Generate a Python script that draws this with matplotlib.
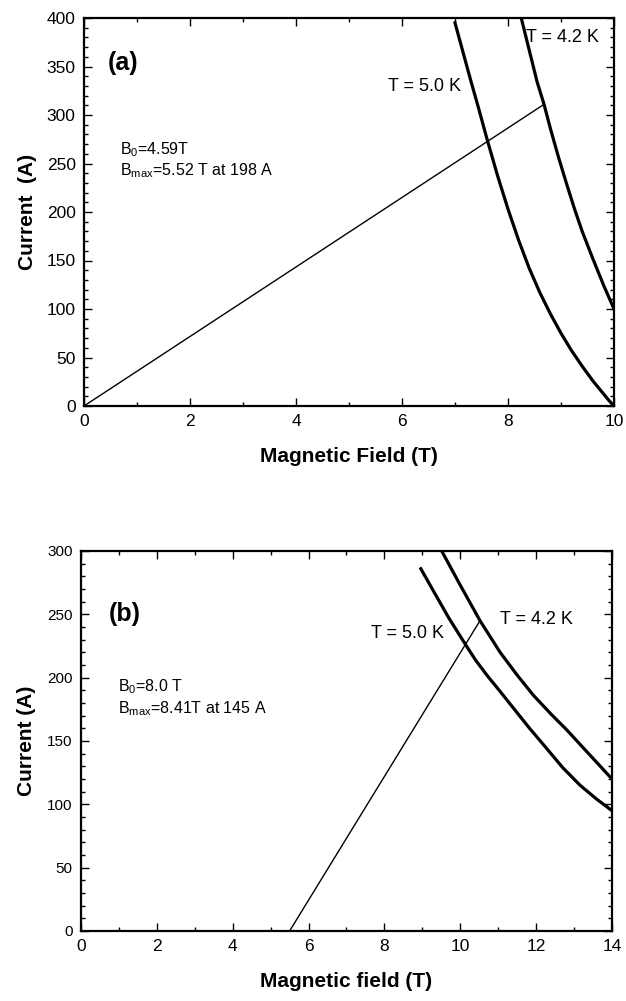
import matplotlib

matplotlib.use("Agg")

import matplotlib.pyplot as plt
from matplotlib.ticker import MultipleLocator

plt.rcParams["font.family"] = ["Liberation Sans", "DejaVu Sans"]
plt.rcParams["mathtext.fontset"] = "custom"
plt.rcParams["mathtext.rm"] = "Liberation Sans"

# Panel (a): load line and critical-current curves
A_LOAD_X = [0.0, 8.68]
A_LOAD_Y = [0.0, 311.0]
A_T50_X = [7.0, 7.15, 7.3, 7.45, 7.6, 7.8, 8.0, 8.2, 8.4, 8.6, 8.8, 9.0, 9.2,
           9.4, 9.6, 9.75, 9.9, 10.0]
A_T50_Y = [395.0, 365.0, 335.0, 306.0, 276.0, 238.0, 203.0, 171.0, 142.0, 117.0,
           95.0, 75.0, 57.0, 41.0, 26.0, 16.0, 6.0, 0.0]
A_T42_X = [8.25, 8.35, 8.45, 8.55, 8.68, 8.8, 8.95, 9.1, 9.25, 9.4, 9.6, 9.8, 10.0]
A_T42_Y = [400.0, 378.0, 356.0, 334.0, 311.0, 286.0, 257.0, 230.0, 204.0, 180.0,
           152.0, 125.0, 100.0]

# Panel (b)
B_LOAD_X = [5.5, 10.52]
B_LOAD_Y = [0.0, 245.0]
B_T50_X = [8.96, 9.3, 9.7, 10.12, 10.4, 10.7, 11.0, 11.4, 11.8, 12.28, 12.7,
           13.16, 13.6, 14.0]
B_T50_Y = [286.0, 268.0, 247.0, 227.0, 214.0, 202.0, 191.0, 176.0, 161.0, 144.0,
           129.0, 115.0, 104.0, 95.0]
B_T42_X = [9.51, 10.0, 10.52, 11.05, 11.5, 11.93, 12.4, 12.8, 13.2, 13.6, 14.0]
B_T42_Y = [300.0, 273.0, 245.0, 220.0, 202.0, 186.0, 171.0, 159.0, 146.0, 133.0,
           120.0]


def style_axes(ax, xmax, ymax, ystep):
    ax.set_xlim(0, xmax)
    ax.set_ylim(0, ymax)
    ax.xaxis.set_major_locator(MultipleLocator(2))
    ax.xaxis.set_minor_locator(MultipleLocator(1))
    ax.yaxis.set_major_locator(MultipleLocator(ystep))
    ax.yaxis.set_minor_locator(MultipleLocator(10))
    ax.tick_params(which="both", direction="in", top=True, right=True,
                   labelsize=12.5, width=1.0)
    ax.tick_params(which="major", length=6, pad=6)
    ax.tick_params(which="minor", length=3)
    for sp in ax.spines.values():
        sp.set_linewidth(1.6)


fig = plt.figure(figsize=(6.26, 10.01), dpi=100)

ax1 = fig.add_axes([84 / 626, 1 - 406 / 1001, 530 / 626, 388 / 1001])
ax1.plot(A_LOAD_X, A_LOAD_Y, color="black", linewidth=1.0)
ax1.plot(A_T50_X, A_T50_Y, color="black", linewidth=2.3)
ax1.plot(A_T42_X, A_T42_Y, color="black", linewidth=2.3)
style_axes(ax1, 10, 400, 50)
ax1.set_xlabel("Magnetic Field (T)", fontsize=15, fontweight="bold", labelpad=13)
ax1.set_ylabel("Current  (A)", fontsize=15, fontweight="bold", labelpad=7)
ax1.text(0.45, 354, "(a)", fontsize=18, fontweight="bold", va="center")
ax1.text(5.74, 329, "T = 5.0 K", fontsize=13, va="center")
ax1.text(8.34, 380, "T = 4.2 K", fontsize=13, va="center")
ax1.text(0.68, 259, "B$_0$=4.59T", fontsize=11.5, va="baseline")
ax1.text(0.68, 238, "B$_{\\mathrm{max}}$=5.52 T at 198 A", fontsize=11.5, va="baseline")

ax2 = fig.add_axes([81 / 626, 1 - 931 / 1001, 531 / 626, 380 / 1001])
ax2.plot(B_LOAD_X, B_LOAD_Y, color="black", linewidth=1.0)
ax2.plot(B_T50_X, B_T50_Y, color="black", linewidth=2.3)
ax2.plot(B_T42_X, B_T42_Y, color="black", linewidth=2.3)
style_axes(ax2, 14, 300, 50)
ax2.tick_params(axis="y", labelsize=11)
ax2.set_xlabel("Magnetic field (T)", fontsize=15, fontweight="bold", labelpad=13)
ax2.set_ylabel("Current (A)", fontsize=15, fontweight="bold", labelpad=8)
ax2.text(0.72, 250, "(b)", fontsize=18, fontweight="bold", va="center")
ax2.text(7.65, 235, "T = 5.0 K", fontsize=13, va="center")
ax2.text(11.05, 246, "T = 4.2 K", fontsize=13, va="center")
ax2.text(0.97, 189, "B$_0$=8.0 T", fontsize=11.5, va="baseline")
ax2.text(0.97, 172, "B$_{\\mathrm{max}}$=8.41T at 145 A", fontsize=11.5, va="baseline")

fig.savefig("out.png", dpi=100)
